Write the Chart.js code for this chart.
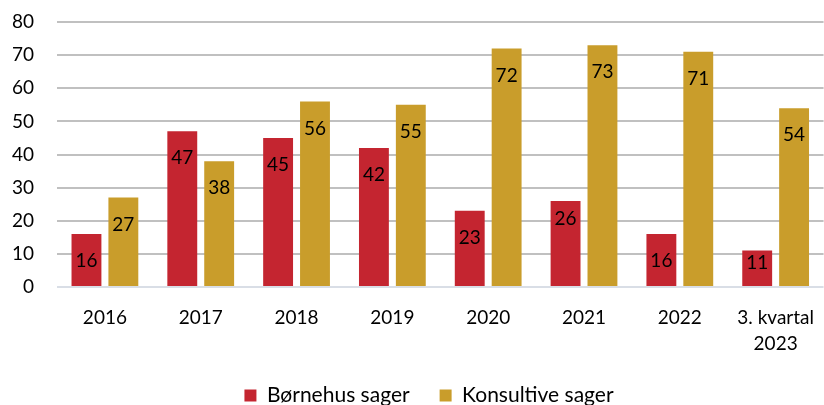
<!DOCTYPE html>
<html>
<head>
<meta charset="utf-8">
<script src="https://cdn.jsdelivr.net/npm/chart.js@4"></script>
<style>
  html, body { margin: 0; padding: 0; background: #fff; }
  #wrap { width: 824px; height: 405px; }
</style>
</head>
<body>
<div id="wrap"><canvas id="sagerChart" width="824" height="405"></canvas></div>
<script>
const categories = ['2016', '2017', '2018', '2019', '2020', '2021', '2022', ['3. kvartal', '2023']];
const bornehusSager = [16, 47, 45, 42, 23, 26, 16, 11];
const konsultiveSager = [27, 38, 56, 55, 72, 73, 71, 54];
const yTicks = [0, 10, 20, 30, 40, 50, 60, 70, 80];

const FONT = 'Lato, "Liberation Sans", sans-serif';

// labels sit a fixed distance below the bar top; a couple were nudged in the original
const labelDrop = { '0-5': 18, '0-7': 12 };

const barLabels = {
  id: 'barLabels',
  afterDatasetsDraw(chart) {
    const ctx = chart.ctx;
    ctx.save();
    ctx.font = '19px ' + FONT;
    ctx.fillStyle = '#000';
    ctx.textAlign = 'center';
    ctx.textBaseline = 'middle';
    chart.data.datasets.forEach((ds, di) => {
      chart.getDatasetMeta(di).data.forEach((bar, i) => {
        const drop = labelDrop[di + '-' + i] || 27;
        ctx.fillText(String(ds.data[i]), bar.x, bar.y + drop);
      });
    });
    ctx.restore();
  }
};

// legend in the original sits a bit right of centre
const legendShift = {
  id: 'legendShift',
  afterUpdate(chart) {
    chart.legend.left += 17;
    chart.legend.right += 17;
  }
};

new Chart(document.getElementById('sagerChart').getContext('2d'), {
  type: 'bar',
  data: {
    labels: categories,
    datasets: [{
      label: 'Børnehus sager',
      data: bornehusSager,
      backgroundColor: '#C42530',
      categoryPercentage: 0.77,
      barPercentage: 0.81
    }, {
      label: 'Konsultive sager',
      data: konsultiveSager,
      backgroundColor: '#C99D2B',
      categoryPercentage: 0.77,
      barPercentage: 0.81
    }]
  },
  options: {
    responsive: false,
    animation: false,
    layout: { padding: { top: 22, right: 0, left: 0, bottom: -11 } },
    plugins: {
      tooltip: { enabled: false },
      legend: {
        position: 'bottom',
        labels: {
          font: { family: FONT, size: 21 },
          color: '#000',
          boxWidth: 12,
          boxHeight: 12,
          padding: 30,
          useBorderRadius: false
        }
      }
    },
    scales: {
      x: {
        grid: { display: false },
        border: { display: false },
        ticks: { font: { family: FONT, size: 19, lineHeight: 1.35 }, color: '#000', maxRotation: 0, padding: 10 },
        afterFit(scale) { scale.height = 68; }
      },
      y: {
        min: 0,
        max: 80,
        afterBuildTicks(scale) { scale.ticks = yTicks.map(v => ({ value: v })); },
        grid: {
          color: ctx => ctx.tick && ctx.tick.value === 0 ? '#D9DEE6' : '#C0C0C0',
          lineWidth: 2,
          drawTicks: false
        },
        border: { display: false },
        ticks: { font: { family: FONT, size: 19 }, color: '#000', padding: 23 },
        afterFit(scale) {
          scale.width = 57;
          scale.paddingTop = 0;
          scale.paddingBottom = 0;
        }
      }
    }
  },
  plugins: [barLabels, legendShift]
});
</script>
</body>
</html>
